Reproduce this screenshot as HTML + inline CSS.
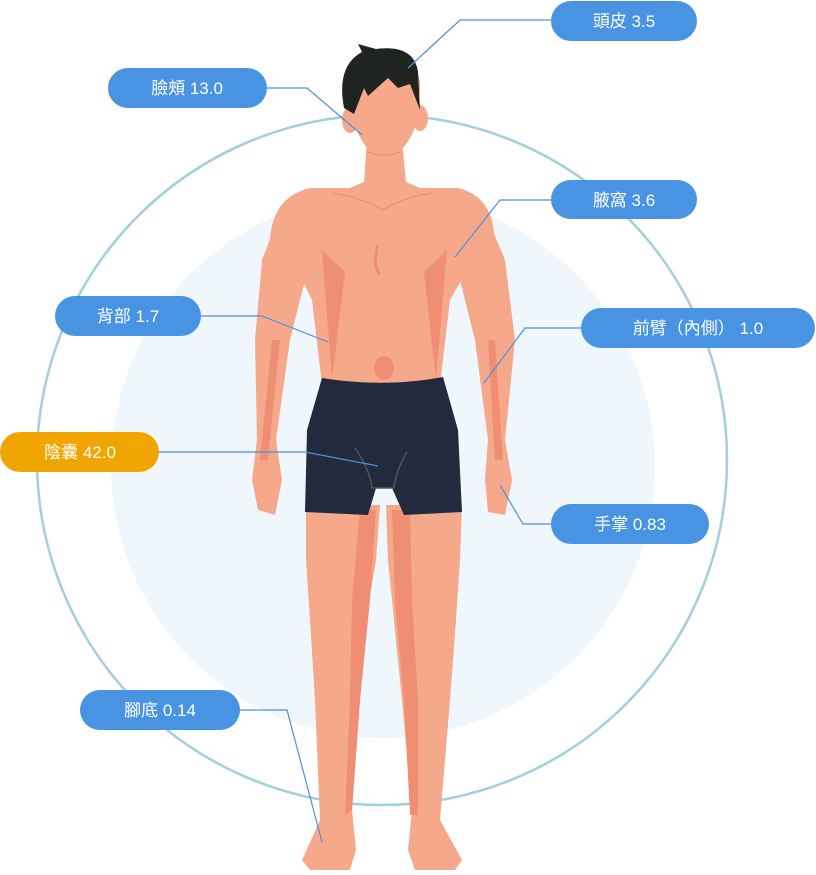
<!DOCTYPE html>
<html><head><meta charset="utf-8"><style>
html,body{margin:0;padding:0;background:#fff;}
svg{display:block;}
text{font-family:"Liberation Sans","Noto Sans CJK TC",sans-serif;font-size:17px;fill:#fff;}
</style></head><body>
<svg width="816" height="875" viewBox="0 0 816 875" xmlns="http://www.w3.org/2000/svg">
<circle cx="383" cy="466" r="272" fill="#eff7fd"/>
<circle cx="382" cy="460" r="345" fill="none" stroke="#a3cfdc" stroke-width="2.5"/>
<!-- legs -->
<path d="M306 505 L380 505 L376 560 L366 620 L360 700 L352 810 L356 850 L350 870 L310 870 L302 860 L320 820 L315 700 L310 620 L306 560 Z" fill="#f5a98a"/>
<path d="M386 505 L462 505 L460 560 L456 620 L450 700 L440 820 L462 860 L455 870 L415 870 L408 850 L412 810 L402 700 L394 620 L388 560 Z" fill="#f5a98a"/>
<path d="M360 510 L376 510 L370 600 L360 700 L352 810 L345 815 L350 700 L352 600 Z" fill="#f08e74"/>
<path d="M392 510 L410 510 L412 600 L418 700 L418 815 L410 815 L404 700 L395 600 Z" fill="#f08e74"/>
<!-- arms -->
<path d="M285 200 L262 260 L255 340 L257 440 L252 480 L258 510 L275 515 L282 480 L276 440 L290 340 L310 260 Z" fill="#f5a98a"/>
<path d="M480 200 L505 260 L515 340 L505 440 L512 480 L505 515 L488 512 L485 480 L488 440 L475 340 L455 260 Z" fill="#f5a98a"/>
<path d="M272 340 L260 460 L268 460 L280 340 Z" fill="#f08e74"/>
<path d="M488 340 L495 460 L503 460 L495 340 Z" fill="#f08e74"/>
<!-- neck -->
<path d="M367 140 L402 140 L406 182 L430 192 L340 192 L364 182 Z" fill="#f5a98a"/>
<!-- torso -->
<path d="M310 188 L458 188 Q498 198 494 250 L470 265 L450 300 L440 385 L322 385 L312 300 L295 265 L270 250 Q268 198 310 188 Z" fill="#f5a98a"/>
<path d="M322 250 L345 272 L332 380 Z M447 250 L424 272 L436 380 Z" fill="#f08e74"/>
<path d="M332 193 Q360 197 383 210 Q405 197 432 193" fill="none" stroke="#f08e74" stroke-width="1.2"/>
<path d="M378 245 Q372 265 380 275" fill="none" stroke="#f08e74" stroke-width="3"/>
<ellipse cx="384" cy="368" rx="10" ry="12" fill="#f08e74"/>
<!-- shorts -->
<path d="M322 378 Q385 388 443 377 L458 430 L462 512 L404 515 L392 488 L376 488 L368 515 L305 512 L307 430 Z" fill="#222a3d"/>
<path d="M355 448 Q370 470 372 488 L394 488 Q396 470 407 452" fill="none" stroke="#555" stroke-width="1.5"/>
<!-- head -->
<ellipse cx="350" cy="120" rx="8" ry="13" fill="#f5a98a"/>
<ellipse cx="420" cy="118" rx="8" ry="13" fill="#f5a98a"/>
<path d="M348 80 Q348 58 385 56 Q422 58 420 90 L417 122 Q406 155 385 158 Q364 155 354 122 Z" fill="#f5a98a"/>
<path d="M344 108 Q336 66 362 52 L358 44 L376 49 Q414 44 418 72 L420 110 L410 84 L398 88 L388 78 L368 96 L364 88 L354 114 Z" fill="#1f2420"/>
<path d="M367 152 Q385 158 400 152" fill="none" stroke="#f08e74" stroke-width="1.2"/>
<!-- connectors -->
<g fill="none" stroke="#4a90e2" stroke-width="1.2">
<polyline points="551,20 460,20 408,68"/>
<polyline points="267,88 307,88 362,135"/>
<polyline points="551,200 500,200 455,257"/>
<polyline points="201,316 262,316 328,342"/>
<polyline points="581,328 525,328 484,383"/>
<polyline points="159,452 305,452 378,466"/>
<polyline points="551,524 523,524 500,485"/>
<polyline points="240,710 287,710 322,842"/>
</g>
<!-- labels -->
<g fill="#4893e2">
<rect x="551" y="1" width="146" height="40" rx="20"/>
<rect x="108" y="68" width="159" height="40" rx="20"/>
<rect x="551" y="180" width="146" height="39" rx="19.5"/>
<rect x="55" y="296" width="146" height="40" rx="20"/>
<rect x="581" y="308" width="234" height="40" rx="20"/>
<rect x="551" y="504" width="158" height="40" rx="20"/>
<rect x="80" y="690" width="160" height="40" rx="20"/>
</g>
<rect x="0" y="432" width="159" height="40" rx="20" fill="#f0a500"/>
<text x="624" y="27" text-anchor="middle">頭皮 3.5</text>
<text x="187" y="94" text-anchor="middle">臉頰 13.0</text>
<text x="624" y="206" text-anchor="middle">腋窩 3.6</text>
<text x="128" y="322" text-anchor="middle">背部 1.7</text>
<text x="698" y="334" text-anchor="middle">前臂（內側） 1.0</text>
<text x="80" y="458" text-anchor="middle">陰囊 42.0</text>
<text x="630" y="530" text-anchor="middle">手掌 0.83</text>
<text x="160" y="716" text-anchor="middle">腳底 0.14</text>
</svg>
</body></html>
